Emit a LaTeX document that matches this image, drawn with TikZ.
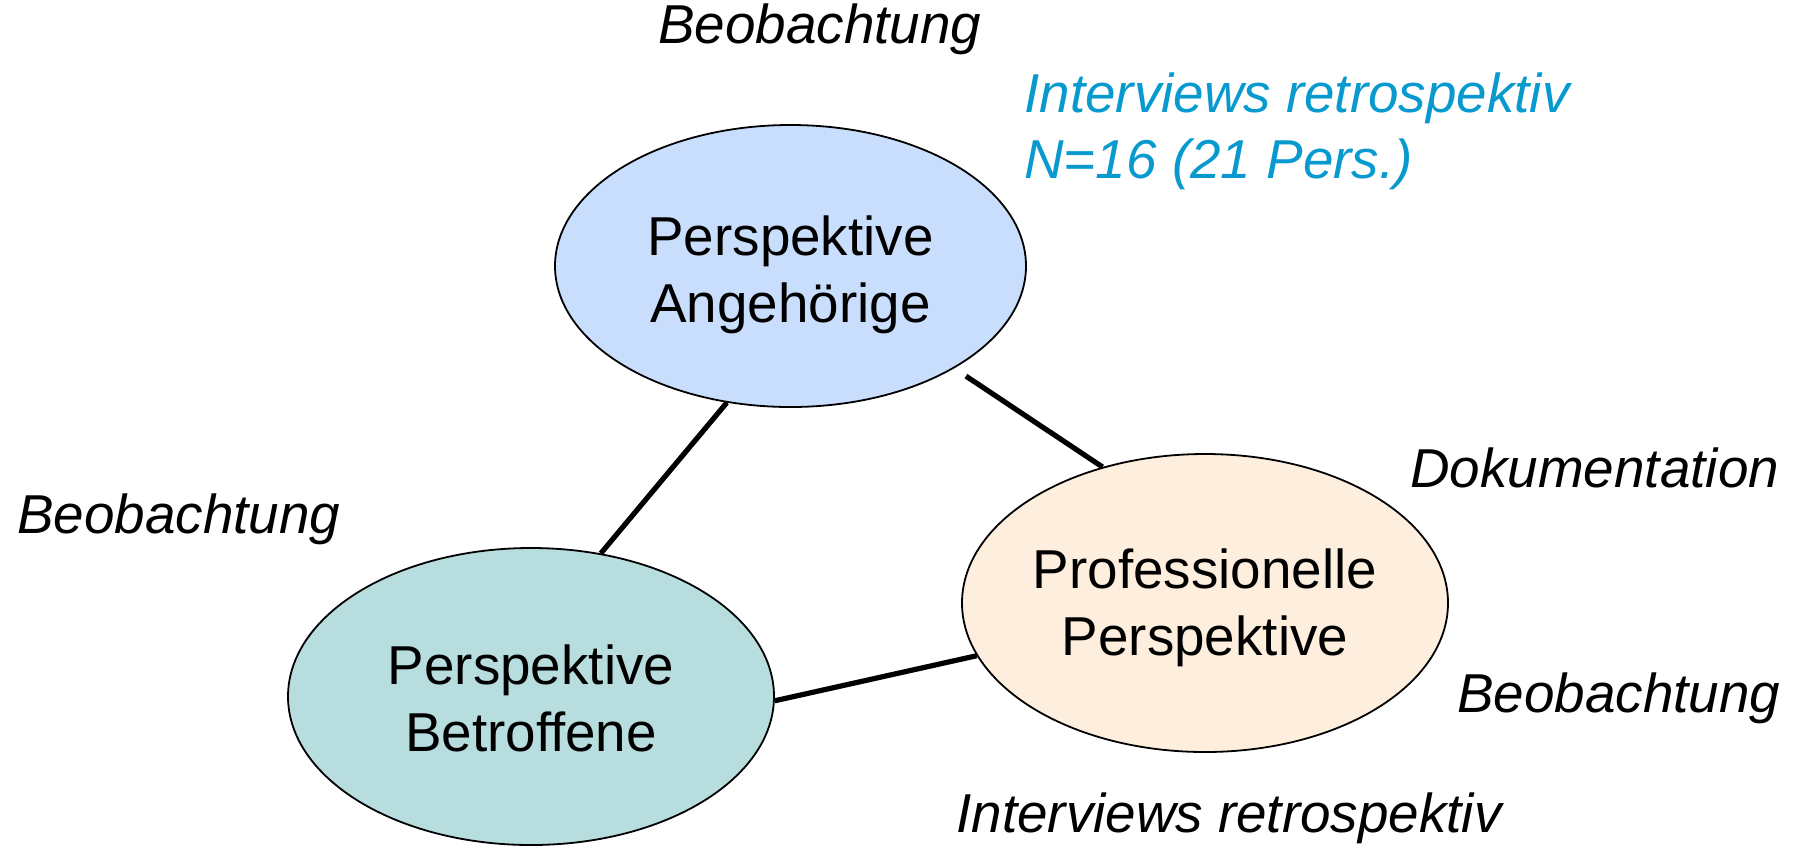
\documentclass[tikz,border=0pt]{standalone}
\usepackage{fontspec}
\setmainfont{Liberation Sans}
\usetikzlibrary{shapes.geometric}
\definecolor{angehblau}{RGB}{201,221,252}
\definecolor{betroffgruen}{RGB}{184,221,222}
\definecolor{profibeige}{RGB}{254,238,222}
\definecolor{interviewblau}{RGB}{8,154,206}
\begin{document}
\begin{tikzpicture}[
        x = .5pt,
        y = -.5pt,
        perspektive/.style = {ellipse, draw, line width=.9pt, inner sep=0pt},
        perspektivtext/.style = {align=center, inner sep=0pt,
            font=\fontsize{27.4pt}{33.5pt}\selectfont},
        methode/.style = {anchor=base west, inner sep=0pt,
            font=\fontsize{27.4pt}{33.5pt}\selectfont\itshape},
        verbindung/.style = {line width=2.6pt}
    ]
        \useasboundingbox (0,0) rectangle (1803,858);
        % Perspektiven
        \node[perspektive, fill=angehblau, minimum width=235.5pt, minimum height=141pt,
            label={[perspektivtext, yshift=-4.5pt]center:Perspektive\\Angeh\"orige}]
            (angeh) at (790.5,266) {};
        \node[perspektive, fill=betroffgruen, minimum width=243pt, minimum height=148.5pt,
            label={[perspektivtext, yshift=-1pt]center:Perspektive\\Betroffene}]
            (betroff) at (531,696.5) {};
        \node[perspektive, fill=profibeige, minimum width=243pt, minimum height=149pt,
            label={[perspektivtext, yshift=-2.5pt]center:Professionelle\\Perspektive}]
            (profi) at (1205,603) {};
        % Verbindungen
        \draw[verbindung] (angeh.245.8)--(betroff.64.6);
        \draw[verbindung, shorten <=7pt] (angeh.-32.8)--(profi.127.2);
        \draw[verbindung] (betroff.-1.5)--(profi.193.4);
        % Methoden
        \node[methode] (beobangeh) at (658,43) {Beobachtung};
        \node[methode, text=interviewblau] (intangeh) at (1024,112) {Interviews retrospektiv};
        \node[methode, text=interviewblau] (nangeh) at (1024,178) {N=16 (21 Pers.)};
        \node[methode] (beobbetroff) at (17,533) {Beobachtung};
        \node[methode] (doku) at (1410,487) {Dokumentation};
        \node[methode] (beobprofi) at (1457,712) {Beobachtung};
        \node[methode] (intprofi) at (956,832) {Interviews retrospektiv};
    \end{tikzpicture}
\end{document}
